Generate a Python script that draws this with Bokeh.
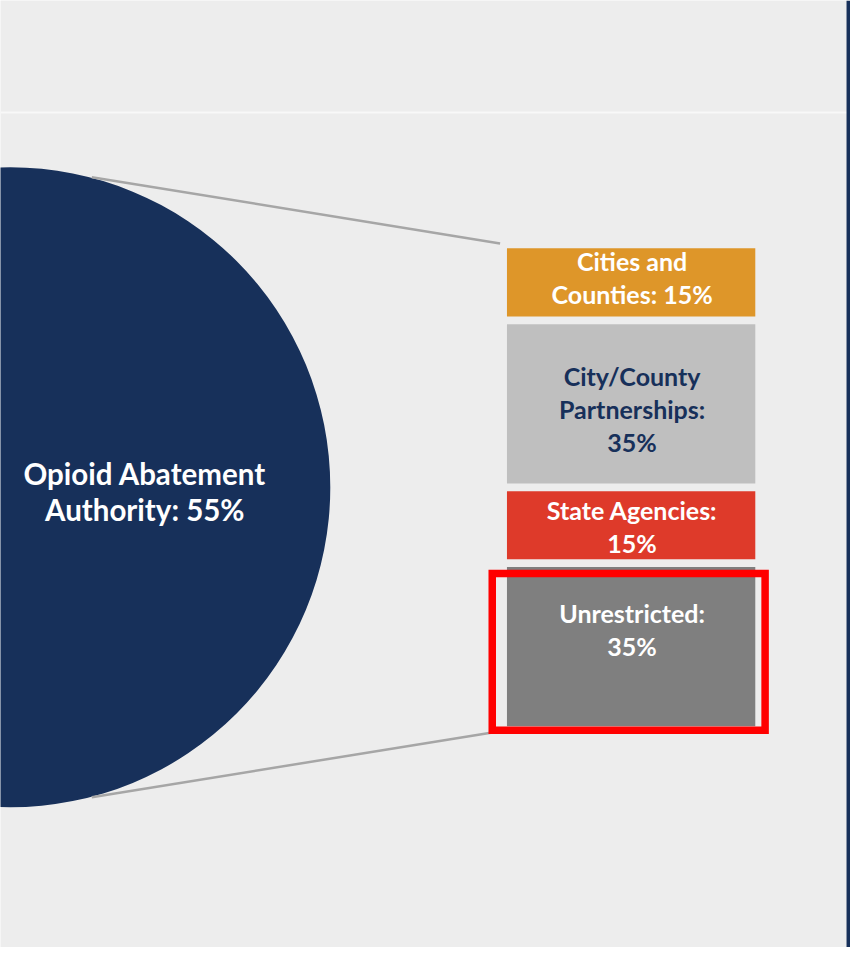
import math
from bokeh.plotting import figure
from bokeh.models import Range1d, ColumnDataSource, Span
from bokeh.core.properties import value
from bokeh.embed import file_html
from bokeh.resources import INLINE

# ---- data ----
main_label = "Opioid Abatement\nAuthority: 55%"
main_value = 55
bar_labels = ["Cities and\nCounties: 15%", "City/County\nPartnerships:\n35%",
              "State Agencies:\n15%", "Unrestricted:\n35%"]
bar_values = [15, 35, 15, 35]
bar_colors = ["#DE9629", "#BFBFBF", "#DE3A2A", "#7F7F7F"]
label_colors = ["white", "#17305A", "white", "white"]
highlight_index = 3

# ---- layout / styles ----
W, H = 850, 947
VW, VH = 866, 963          # virtual canvas in data units
BG = "#EDEDED"
NAVY = "#17305A"
FONT = "Lato"

p = figure(width=W, height=H, output_backend="svg", toolbar_location=None,
           x_range=Range1d(0, VW), y_range=Range1d(VH, 0),
           min_border=0)
p.axis.visible = False
p.grid.visible = False
p.outline_line_color = None
p.background_fill_color = BG
p.border_fill_color = BG

# percent scale for the bar (extra range): u -> canvas y = 252 + k*u
gap = 1.7
k = (738 - 252) / (sum(bar_values) + gap * (len(bar_values) - 1))
p.extra_y_ranges = {"pct": Range1d(start=(VH - 252) / k, end=(0 - 252) / k)}

tops, bottoms = [], []
acc = 0.0
for v in bar_values:
    tops.append(acc)
    bottoms.append(acc + v)
    acc += v + gap

bar_left, bar_right = 516, 769
src = ColumnDataSource(dict(top=tops, bottom=bottoms, color=bar_colors,
                            label=bar_labels, lcolor=label_colors,
                            mid=[(a + b) / 2 for a, b in zip(tops, bottoms)]))
p.quad(left=bar_left, right=bar_right, top="top", bottom="bottom",
       fill_color="color", line_color=None, source=src, y_range_name="pct")

# top separator line and right border line
p.add_layout(Span(location=114, dimension="width", line_color="#F8F8F8", line_width=2))
p.add_layout(Span(location=864, dimension="height", line_color=NAVY, line_width=4))

# pie (main value shown as full circle)
cx, cy, r = 10, 495, 326
p.circle(x=[cx], y=[cy], radius=r, fill_color=NAVY, line_color=None)

# connector lines from the pie to the bar
def to_canvas(u):
    return 252 + k * u

dx = 83
dy = math.sqrt(r * r - dx * dx)
x0 = cx + dx
x1 = bar_left - 7
p.line(x=[x0, x1], y=[cy - dy, to_canvas(tops[0]) - 5], line_color="#A6A6A6", line_width=2.5)
p.line(x=[x0, x1], y=[cy + dy, to_canvas(bottoms[-1]) + 5], line_color="#A6A6A6", line_width=2.5)

# highlight box
h = highlight_index
p.quad(left=bar_left - 15, right=bar_right + 10,
       top=[tops[h] + 6.5 / k], bottom=[bottoms[h] + 4 / k],
       fill_color=None, line_color="#FF0000", line_width=7.5, line_join="miter",
       y_range_name="pct")

# bar labels
src.data["yoff"] = [-5, 5, 1, -17]
p.text(x=(bar_left + bar_right) / 2 + 1, y="mid", text="label", source=src,
       y_range_name="pct", y_offset="yoff",
       text_color="lcolor", text_font=value(FONT), text_font_style="bold",
       text_font_size="25px", text_align="center", text_baseline="middle",
       text_line_height=1.1)

# main label
p.text(x=[cx + 137], y=[cy + 4], text=[main_label], text_color="white",
       text_font=value(FONT), text_font_style="bold", text_font_size="29.5px",
       text_align="center", text_baseline="middle", text_line_height=1.04)

open("out.html", "w").write(file_html(p, INLINE))
